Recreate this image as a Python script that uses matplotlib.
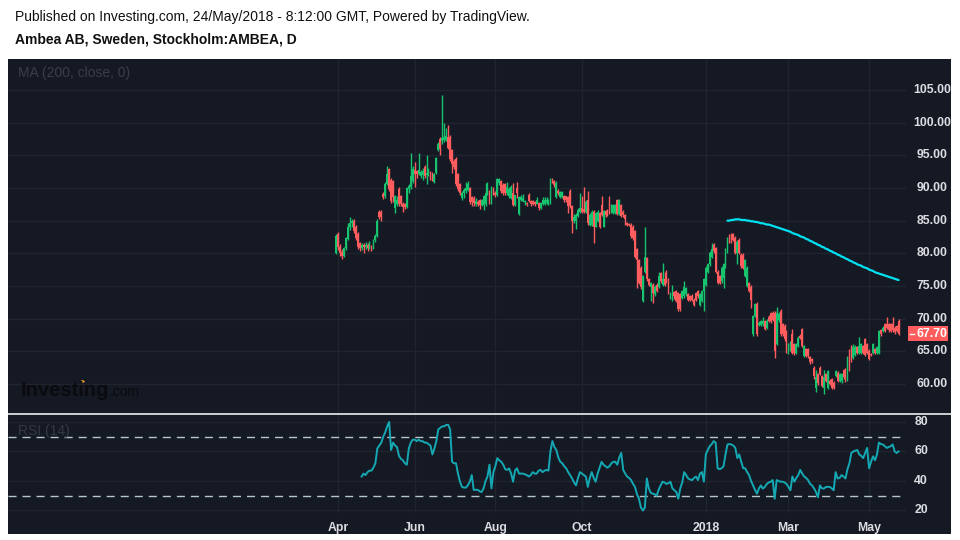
import numpy as np
import matplotlib
matplotlib.use('Agg')
import matplotlib.pyplot as plt
import matplotlib.transforms as mtransforms
from matplotlib.patches import Rectangle, Circle
from matplotlib.lines import Line2D

plt.rcParams['font.family'] = ['Liberation Sans', 'DejaVu Sans']
plt.rcParams['lines.scale_dashes'] = False

# daily candles, Ambea AB, 31 Mar 2017 .. 24 May 2018 (one value per trading day)
opens = [
    80.0, 83.0, 81.0, 80.2, 79.6, 80.8, 82.2, 84.0, 84.6, 85.0,
    84.0, 83.0, 81.5, 80.8, 81.3, 80.9, 81.2, 80.8, 81.0, 80.8,
    82.0, 82.7, 86.3, 86.4, 89.1, 88.8, 90.6, 92.9, 91.3, 91.0,
    87.0, 87.6, 89.9, 88.8, 87.6, 87.5, 87.1, 89.8, 90.1, 91.0,
    92.8, 92.6, 92.2, 91.9, 92.0, 93.2, 92.0, 92.1, 92.3, 92.2,
    90.9, 92.3, 95.8, 97.5, 97.2, 97.3, 97.4, 97.8, 97.8, 95.8,
    94.1, 94.5, 92.1, 90.6, 88.4, 89.2, 89.5, 89.7, 90.0, 88.6,
    88.5, 87.5, 87.8, 88.2, 87.4, 87.4, 87.5, 89.2, 89.5, 87.8,
    89.9, 89.2, 89.0, 90.8, 91.0, 90.5, 90.6, 89.2, 88.7, 88.5,
    89.2, 87.4, 90.0, 86.0, 88.2, 88.0, 87.8, 87.6, 89.0, 88.0,
    88.0, 87.9, 87.6, 87.7, 86.9, 87.6, 87.6, 87.7, 87.6, 87.7,
    91.3, 91.0, 88.6, 89.6, 88.6, 88.6, 88.7, 88.7, 88.6, 89.5,
    87.2, 85.0, 84.9, 85.7, 86.4, 86.9, 86.8, 86.4, 88.1, 84.4,
    84.4, 86.4, 84.1, 85.0, 86.2, 87.4, 84.1, 86.5, 86.6, 87.4,
    86.4, 86.2, 86.2, 88.1, 86.0, 87.4, 86.4, 85.8, 84.6, 84.5,
    84.4, 84.1, 83.4, 80.6, 79.0, 77.8, 72.7, 77.2, 79.3, 76.0,
    74.9, 75.2, 73.7, 75.2, 74.9, 77.0, 75.2, 76.0, 77.2, 76.0,
    73.2, 72.9, 74.0, 74.2, 73.9, 73.7, 73.2, 73.4, 73.7, 73.7,
    73.4, 73.5, 72.9, 73.9, 74.2, 72.1, 72.7, 74.2, 75.2, 77.2,
    78.3, 79.5, 81.3, 80.8, 77.2, 76.5, 75.7, 76.2, 78.0, 80.3,
    82.6, 82.9, 82.9, 82.4, 80.1, 82.1, 79.8, 79.8, 76.5, 75.0,
    75.4, 74.9, 67.6, 70.4, 72.2, 69.0, 69.0, 69.1, 69.6, 68.6,
    70.3, 70.8, 70.9, 70.9, 66.1, 69.8, 71.2, 69.2, 68.9, 68.1,
    64.8, 65.3, 67.6, 66.1, 64.8, 65.8, 67.3, 68.4, 64.3, 65.3,
    65.3, 64.1, 63.8, 62.5, 59.4, 61.5, 62.5, 61.2, 59.4, 61.5,
    59.4, 60.5, 60.7, 60.2, 61.2, 61.7, 60.5, 60.5, 62.1, 62.2,
    60.7, 65.1, 65.8, 64.0, 64.5, 65.6, 64.8, 64.8, 65.8, 66.8,
    66.1, 65.1, 64.6, 64.8, 65.3, 64.8, 64.8, 68.2, 68.1, 69.1,
    69.2, 69.1, 69.1, 69.1, 68.6, 68.8, 69.7,
]
highs = [
    82.9, 83.2, 81.4, 80.6, 81.0, 82.5, 84.6, 85.6, 85.3, 85.3,
    84.3, 83.2, 81.7, 81.5, 81.6, 81.8, 81.6, 81.9, 81.3, 82.2,
    83.0, 85.3, 86.6, 86.6, 89.4, 90.9, 93.4, 93.0, 91.5, 91.2,
    89.0, 88.8, 90.1, 89.0, 87.9, 87.7, 90.2, 90.6, 95.4, 93.3,
    94.0, 92.8, 95.4, 92.7, 93.0, 93.5, 95.0, 93.0, 92.6, 92.4,
    92.3, 94.8, 97.0, 97.8, 104.3, 100.0, 99.2, 99.6, 98.1, 96.0,
    94.4, 94.7, 92.3, 90.8, 89.6, 90.0, 90.9, 91.0, 90.2, 88.8,
    88.7, 88.4, 88.2, 88.3, 88.3, 88.9, 90.8, 90.9, 89.7, 90.3,
    90.1, 89.5, 91.5, 91.6, 91.2, 90.7, 90.8, 90.9, 90.1, 90.4,
    90.7, 89.0, 90.9, 88.8, 88.9, 89.1, 88.2, 87.9, 89.2, 88.1,
    88.2, 88.0, 88.6, 87.8, 87.9, 88.6, 88.6, 88.6, 88.3, 91.6,
    91.5, 91.2, 91.0, 89.8, 89.6, 89.6, 88.9, 88.8, 88.8, 89.8,
    87.4, 86.0, 86.1, 86.9, 89.2, 88.7, 90.1, 88.1, 89.5, 86.1,
    86.6, 86.6, 86.4, 86.6, 86.4, 88.7, 86.7, 86.7, 86.8, 88.8,
    87.6, 87.6, 87.6, 88.3, 88.3, 87.6, 86.6, 86.0, 84.8, 84.7,
    84.6, 84.3, 83.6, 80.8, 79.2, 78.0, 76.7, 84.1, 79.5, 76.2,
    75.6, 75.4, 75.1, 75.4, 77.2, 77.2, 78.5, 77.2, 77.5, 76.2,
    74.1, 75.2, 74.2, 74.4, 74.1, 73.9, 74.4, 75.7, 74.9, 73.9,
    73.6, 73.7, 73.1, 74.1, 74.4, 73.9, 74.4, 76.2, 78.0, 78.5,
    80.3, 81.5, 81.5, 81.0, 77.4, 76.7, 78.0, 78.5, 80.8, 82.5,
    83.0, 83.1, 83.1, 82.6, 82.0, 82.3, 80.0, 80.0, 79.2, 78.0,
    75.6, 75.1, 70.6, 72.4, 72.6, 69.6, 69.8, 70.2, 69.8, 69.9,
    70.5, 71.0, 71.1, 71.1, 71.8, 71.0, 71.4, 69.4, 69.1, 68.3,
    66.3, 66.5, 68.4, 66.3, 66.3, 67.3, 67.6, 68.6, 66.0, 65.5,
    65.5, 64.3, 64.0, 62.7, 62.1, 61.7, 62.7, 61.4, 62.1, 61.7,
    62.1, 60.7, 60.9, 60.4, 62.2, 61.9, 61.7, 61.7, 62.3, 62.4,
    64.2, 65.3, 66.0, 66.1, 66.0, 65.8, 67.2, 66.3, 66.0, 67.0,
    66.3, 65.3, 64.8, 66.3, 65.5, 65.8, 68.3, 68.4, 68.8, 69.3,
    70.2, 69.3, 69.3, 70.3, 68.8, 69.0, 69.9,
]
lows = [
    79.9, 80.5, 79.6, 79.2, 79.4, 80.5, 82.0, 83.6, 84.0, 83.1,
    82.1, 80.6, 80.4, 80.5, 80.0, 80.6, 80.3, 80.6, 80.4, 80.6,
    81.7, 82.5, 85.2, 85.0, 88.3, 88.5, 90.4, 89.5, 87.7, 87.8,
    86.2, 87.2, 87.2, 87.3, 86.3, 86.8, 86.9, 89.3, 89.9, 90.8,
    90.2, 91.6, 92.0, 91.6, 91.2, 91.5, 90.6, 91.8, 91.2, 91.0,
    90.7, 92.1, 95.6, 95.1, 96.8, 97.0, 97.2, 96.0, 94.1, 92.3,
    92.9, 90.3, 89.5, 89.0, 88.2, 88.4, 89.3, 89.5, 87.6, 87.3,
    87.2, 87.3, 87.3, 86.8, 87.2, 86.7, 87.3, 89.0, 87.5, 87.6,
    89.0, 88.6, 88.8, 90.5, 89.3, 89.0, 89.0, 89.0, 88.5, 88.3,
    87.2, 87.2, 88.4, 85.8, 88.0, 87.8, 87.4, 87.3, 87.8, 87.2,
    87.4, 87.3, 87.5, 86.7, 86.8, 87.4, 87.4, 87.5, 87.4, 87.5,
    90.8, 90.2, 88.4, 89.0, 88.4, 88.4, 87.9, 87.9, 86.2, 87.0,
    83.1, 84.6, 83.7, 85.5, 86.2, 86.2, 86.2, 86.2, 84.4, 84.2,
    84.2, 81.6, 84.0, 84.8, 83.9, 85.7, 84.0, 85.6, 85.7, 86.0,
    86.2, 86.0, 86.0, 85.8, 85.8, 85.5, 85.5, 84.4, 84.2, 84.2,
    82.4, 82.1, 79.3, 74.7, 75.3, 74.6, 72.5, 77.0, 75.8, 75.0,
    72.7, 72.4, 73.5, 74.0, 74.7, 75.5, 75.0, 75.0, 75.5, 73.7,
    73.0, 72.7, 73.0, 72.5, 71.2, 71.2, 73.0, 73.2, 73.5, 72.7,
    72.7, 72.7, 71.9, 72.7, 73.2, 71.9, 72.5, 71.1, 75.0, 77.0,
    78.1, 79.3, 80.1, 77.0, 75.3, 75.3, 75.5, 74.7, 77.8, 80.1,
    81.6, 81.6, 81.9, 79.9, 78.3, 79.9, 77.8, 77.6, 76.3, 74.8,
    74.0, 71.6, 67.4, 70.2, 67.4, 68.8, 68.8, 68.9, 68.2, 68.4,
    69.5, 69.4, 69.6, 64.0, 65.9, 69.5, 67.4, 67.3, 66.6, 64.8,
    64.6, 65.0, 64.6, 64.5, 64.6, 65.6, 66.9, 65.6, 64.1, 64.1,
    63.9, 63.0, 63.2, 60.8, 58.7, 59.9, 61.3, 59.5, 58.4, 60.3,
    59.2, 59.8, 59.2, 59.2, 61.0, 60.3, 60.3, 60.2, 60.8, 60.3,
    60.5, 62.0, 63.3, 63.8, 64.3, 64.6, 64.6, 64.6, 64.6, 64.3,
    64.6, 63.6, 64.2, 64.6, 64.6, 64.6, 64.6, 67.4, 67.9, 67.9,
    68.4, 68.0, 67.9, 68.0, 67.7, 67.9, 67.5,
]
closes = [
    82.6, 80.9, 80.0, 79.6, 80.8, 82.3, 84.0, 84.6, 85.0, 83.4,
    82.4, 80.9, 80.8, 81.3, 80.9, 81.2, 80.8, 81.0, 80.8, 82.0,
    82.7, 85.0, 85.6, 85.5, 88.6, 90.6, 92.1, 89.8, 88.0, 88.6,
    88.8, 88.2, 87.6, 87.6, 87.1, 87.1, 90.0, 90.3, 91.8, 92.9,
    92.2, 92.2, 92.7, 92.4, 92.6, 91.9, 92.3, 92.6, 91.5, 91.4,
    92.1, 94.6, 96.8, 96.0, 97.6, 97.8, 98.0, 96.2, 94.4, 93.7,
    93.2, 90.6, 89.8, 89.3, 89.2, 89.7, 90.0, 90.6, 87.8, 87.8,
    87.7, 88.0, 87.6, 87.4, 88.1, 88.7, 89.2, 90.5, 87.7, 90.1,
    89.2, 89.0, 91.4, 91.4, 89.5, 89.3, 89.2, 90.2, 89.9, 90.2,
    87.4, 88.9, 89.2, 88.6, 88.6, 88.4, 87.9, 87.5, 88.0, 87.5,
    87.6, 87.5, 88.1, 86.9, 87.7, 88.1, 88.1, 88.1, 88.1, 91.4,
    91.0, 90.4, 90.8, 89.2, 89.4, 89.4, 88.1, 88.1, 87.2, 87.2,
    84.9, 85.5, 85.9, 86.7, 86.9, 86.4, 86.4, 87.9, 84.6, 85.9,
    86.4, 84.1, 86.2, 86.4, 84.1, 85.9, 86.5, 85.9, 86.0, 86.2,
    87.4, 87.4, 87.4, 86.0, 88.1, 85.7, 85.8, 85.2, 84.4, 84.4,
    82.6, 82.3, 79.5, 79.0, 75.5, 74.9, 76.5, 79.5, 76.0, 75.2,
    75.4, 73.9, 74.9, 74.2, 76.5, 75.7, 76.0, 75.2, 75.7, 73.9,
    73.9, 73.9, 73.4, 72.7, 71.4, 71.4, 74.2, 74.9, 74.7, 72.9,
    72.9, 72.9, 72.1, 72.9, 73.4, 73.7, 74.2, 76.0, 77.8, 78.3,
    80.1, 80.6, 80.3, 77.2, 75.5, 75.5, 77.8, 78.3, 80.6, 82.3,
    81.8, 81.8, 82.1, 80.1, 81.8, 80.1, 78.0, 77.8, 79.0, 77.8,
    74.2, 72.9, 70.4, 72.2, 67.6, 69.4, 69.6, 69.7, 68.4, 69.7,
    69.7, 69.6, 69.8, 65.1, 70.9, 70.7, 67.6, 67.6, 66.8, 65.3,
    66.1, 66.3, 64.8, 64.8, 66.1, 67.1, 67.1, 65.8, 65.8, 64.3,
    64.3, 63.3, 63.5, 61.2, 61.0, 60.2, 61.5, 59.7, 61.0, 60.5,
    62.0, 60.0, 59.4, 59.4, 62.0, 60.5, 61.5, 61.5, 61.0, 60.5,
    64.0, 63.0, 63.5, 65.6, 65.6, 64.8, 65.8, 66.1, 64.8, 64.5,
    64.8, 63.8, 64.4, 66.1, 64.8, 65.6, 68.1, 67.6, 68.6, 68.1,
    68.6, 68.2, 68.1, 68.2, 67.9, 68.1, 67.7,
]

# MA(200, close) starts at bar 199
ma_start = 199
ma_values = [
    85.0, 85.0, 85.1, 85.1, 85.2, 85.2, 85.2, 85.1, 85.1, 85.1,
    85.0, 85.0, 84.9, 84.9, 84.8, 84.8, 84.7, 84.6, 84.6, 84.5,
    84.4, 84.4, 84.3, 84.2, 84.1, 84.0, 83.9, 83.8, 83.7, 83.6,
    83.5, 83.4, 83.3, 83.1, 83.0, 82.9, 82.8, 82.6, 82.5, 82.4,
    82.2, 82.1, 81.9, 81.8, 81.6, 81.5, 81.3, 81.2, 81.0, 80.9,
    80.7, 80.6, 80.4, 80.3, 80.1, 80.0, 79.8, 79.7, 79.5, 79.4,
    79.2, 79.1, 78.9, 78.8, 78.6, 78.5, 78.3, 78.2, 78.1, 77.9,
    77.8, 77.7, 77.5, 77.4, 77.3, 77.1, 77.0, 76.9, 76.8, 76.7,
    76.6, 76.5, 76.4, 76.3, 76.2, 76.1, 76.0, 75.9,
]

# RSI(14) starts at bar 13
rsi_start = 13
rsi_values = [
    43, 45, 44, 46, 47, 47, 49, 52, 62, 64,
    66, 70, 73, 77, 80, 61, 66, 64, 63, 57,
    55, 54, 52, 51, 62, 66, 68, 68, 67, 68,
    67, 67, 66, 66, 65, 64, 58, 62, 67, 75,
    76, 77, 77, 78, 78, 75, 53, 52, 52, 45,
    39.5, 36, 35.5, 35.5, 37, 39.5, 44, 34, 34, 34,
    33, 32.5, 35, 40, 43, 51, 35, 46, 50, 55.5,
    54, 53, 51, 48, 47.5, 48.5, 45, 39.5, 47, 48.6,
    45, 45, 45, 44.5, 44, 43, 44, 46, 45, 45,
    47, 47.5, 46, 47, 47.5, 47, 60, 67, 63, 61,
    56, 53, 52, 50, 48.6, 46, 44, 41.7, 39, 37,
    42, 46, 45, 44, 43, 36, 42, 46, 42, 39.5,
    45, 49, 53, 51, 50, 49, 50, 52, 53, 53,
    51, 56, 59, 47.5, 45, 43, 42,
    40.6, 38, 36, 31, 28, 22, 20, 22, 41.7, 35,
    32, 31.4, 31, 30, 34, 37, 39.5, 39, 38, 38.5,
    39.5, 35, 33.7, 32.5, 28, 35, 39, 46, 44, 41.7,
    41, 40.6, 42, 43, 40.6, 45, 46, 39.5, 58, 61,
    63.6, 65, 67, 66, 48.6, 48, 48.6, 50, 58, 64.7,
    65, 64.7, 64, 62.4, 55.5, 58, 53, 48.6, 48.6, 46,
    44, 40, 37, 34, 31.4, 35, 37, 34.8, 36, 38,
    39, 39.5, 40.6, 28, 40.6, 40, 39.5, 39.5, 39, 38,
    36, 33.7, 43, 39.5, 42, 44, 47.5, 45, 43, 42,
    40.6, 38, 37, 35, 32.5, 29, 37, 35, 34.8, 36,
    36, 36, 35, 33.7, 46, 41.7, 42, 44, 43, 41.7,
    48, 52, 59, 60, 60.5, 61, 58, 57, 55.5, 59,
    62.4, 48.6, 53, 56.7, 54, 58, 66, 65, 64.7, 63.5,
    62.4, 63, 63.6, 64.7, 60, 59, 60,
]

price_ticks = [60, 65, 70, 75, 80, 85, 90, 95, 100, 105]
rsi_ticks = [20, 40, 60, 80]
month_idx = [1, 40, 81, 125, 188, 230, 271]
month_labels = ['Apr', 'Jun', 'Aug', 'Oct', '2018', 'Mar', 'May']
last_price = 67.70

W, H = 960, 540
bg = '#151924'
grid_c = '#20242f'
up_c = '#17c36e'
down_c = '#ff5d5d'
label_c = '#dcdde2'

fig = plt.figure(figsize=(9.6, 5.4), dpi=100)
fig.patch.set_facecolor('white')
fig.add_artist(Rectangle((7.5 / W, 1 - 534 / H), (951 - 7.5) / W, (534 - 58.5) / H,
                         transform=fig.transFigure, facecolor=bg, edgecolor='none', zorder=0))

ax = fig.add_axes([8 / W, 1 - 412.5 / H, 898 / W, 354 / H])
ax_r = fig.add_axes([8 / W, 1 - 513 / H, 898 / W, 98 / H])
x_left = 1 + (8 - 338) / 1.967
x_right = 1 + (906 - 338) / 1.967
for a in (ax, ax_r):
    a.set_facecolor(bg)
    a.set_xlim(x_left, x_right)
    a.set_xticks([])
    a.set_yticks([])
    for s in a.spines.values():
        s.set_visible(False)
    for m in month_idx:
        a.axvline(m, color=grid_c, lw=1, zorder=0)

ax.set_ylim(55.62, 109.83)
ax_r.set_ylim(18.3, 84.7)

# price pane
for p in price_ticks:
    ax.axhline(p, color=grid_c, lw=1, zorder=0)
blend = mtransforms.blended_transform_factory(ax.transAxes, ax.transData)
for p in price_ticks:
    ax.text(1.029, p, f'{p:.2f}', transform=blend, ha='center', va='center',
            color=label_c, fontsize=8.8, fontweight='bold', clip_on=False)

o = np.array(opens)
h = np.array(highs)
l = np.array(lows)
c = np.array(closes)
x = np.arange(len(c))
colors = np.where(c >= o, up_c, down_c)
ax.vlines(x, l, h, colors=colors, lw=1.0, zorder=2)
body = np.maximum(np.abs(c - o), 0.15)
ax.bar(x, body, bottom=np.minimum(o, c), width=0.9, color=colors, zorder=3)

ax.plot(np.arange(ma_start, ma_start + len(ma_values)), ma_values,
        color='#00e1f2', lw=1.6, zorder=4, solid_capstyle='round')

# last price marker
ax.add_patch(Rectangle((1.0022, last_price - 1.2), 0.0446, 2.4, transform=blend,
                       facecolor='#ff5d5d', edgecolor='none', clip_on=False, zorder=5))
ax.plot([1.004, 1.009], [last_price, last_price], transform=blend, color='white',
        lw=1, clip_on=False, zorder=6)
ax.text(1.029, last_price, f'{last_price:.2f}', transform=blend, ha='center', va='center',
        color='white', fontsize=8.8, fontweight='bold', clip_on=False, zorder=6)

# RSI pane
for r in rsi_ticks:
    ax_r.axhline(r, color=grid_c, lw=1, zorder=0)
for r in (30, 70):
    ax_r.axhline(r, color='#b5c6cc', lw=1, ls=(0, (5.8, 4.3)), zorder=1)
ax_r.plot(np.arange(rsi_start, rsi_start + len(rsi_values)), rsi_values,
          color='#14a8b3', lw=1.4, zorder=3)
blend_r = mtransforms.blended_transform_factory(ax_r.transAxes, ax_r.transData)
for r in rsi_ticks:
    ax_r.text(1.0167, r, str(r), transform=blend_r, ha='center', va='center',
              color=label_c, fontsize=8.8, fontweight='bold', clip_on=False)
blend_x = mtransforms.blended_transform_factory(ax_r.transData, ax_r.transAxes)
for m, lab in zip(month_idx, month_labels):
    ax_r.text(m, -0.148, lab, transform=blend_x, ha='center', va='center',
              color=label_c, fontsize=8.8, fontweight='bold', clip_on=False)

# pane separator
fig.add_artist(Line2D([8 / W, 951 / W], [1 - 413.8 / H, 1 - 413.8 / H],
                      transform=fig.transFigure, color='white', lw=1.1))

# titles and watermark
fig.text(15 / W, 1 - 17 / H, 'Published on Investing.com, 24/May/2018 - 8:12:00 GMT, Powered by TradingView.',
         ha='left', va='center', fontsize=10, color='#111111')
fig.text(15 / W, 1 - 40 / H, 'Ambea AB, Sweden, Stockholm:AMBEA, D',
         ha='left', va='center', fontsize=10, fontweight='bold', color='#111111')
fig.text(18 / W, 1 - 73 / H, 'MA (200, close, 0)', ha='left', va='center',
         fontsize=10, color='#3a3e4a')
fig.text(18 / W, 1 - 430.5 / H, 'RSI (14)', ha='left', va='center',
         fontsize=10, color='#353946')
fig.text(21 / W, 1 - 396.5 / H, 'Investing', ha='left', va='baseline',
         fontsize=14.5, fontweight='bold', color='#0a0b0f')
fig.text(110 / W, 1 - 396.5 / H, '.com', ha='left', va='baseline',
         fontsize=10, color='#0a0b0f')
fig.add_artist(Circle((82.5 / W, 1 - 381.5 / H), 2.2 / W, transform=fig.transFigure,
                      facecolor='#f5a623', edgecolor='none'))

fig.savefig('out.png', dpi=100, facecolor='white')
